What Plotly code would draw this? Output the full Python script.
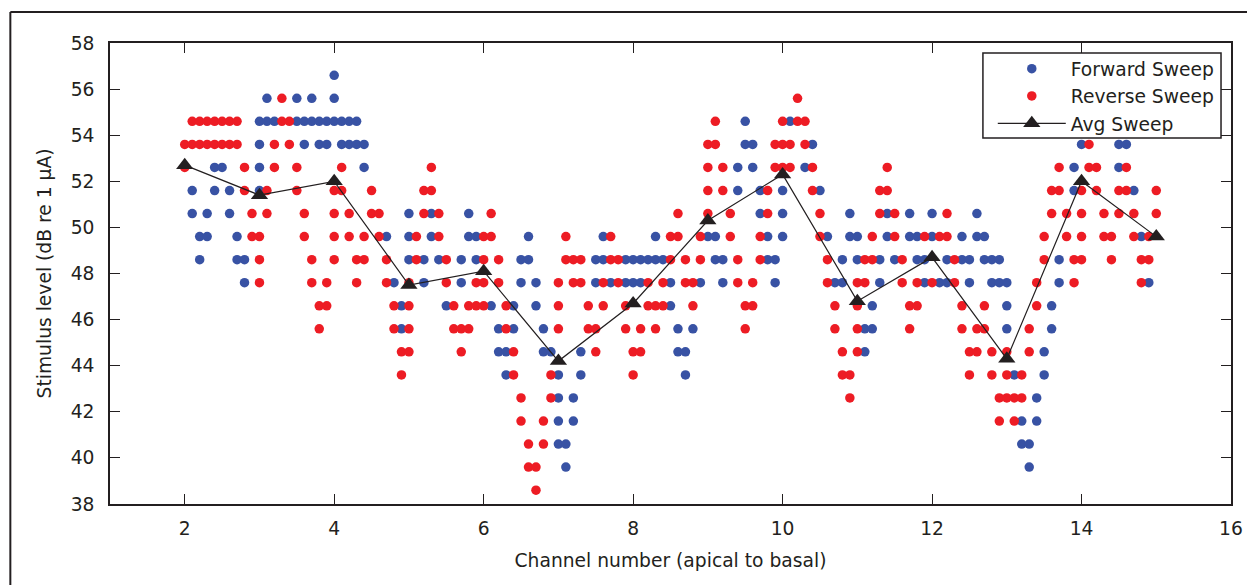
import plotly.graph_objects as go

# ---- data ----
channels = [2, 3, 4, 5, 6, 7, 8, 9, 10, 11, 12, 13, 14, 15]
avg_sweep = [52.7, 51.4, 52.0, 47.5, 48.1, 44.2, 46.7, 50.3, 52.3, 46.8, 48.7, 44.3, 52.0, 49.6]

# (x position, stimulus level) of each Forward Sweep dot
forward_points = [
    (4.0, 56.6),
    (3.1, 55.6), (3.5, 55.6), (3.7, 55.6), (4.0, 55.6),
    (3.0, 54.6), (3.1, 54.6), (3.2, 54.6), (3.5, 54.6), (3.6, 54.6), (3.7, 54.6), (3.8, 54.6),
    (3.9, 54.6), (4.0, 54.6), (4.1, 54.6), (4.2, 54.6), (4.3, 54.6), (9.5, 54.6), (10.1, 54.6),
    (3.0, 53.6), (3.6, 53.6), (3.8, 53.6), (3.9, 53.6), (4.1, 53.6), (4.2, 53.6), (4.3, 53.6),
    (4.4, 53.6), (9.5, 53.6), (9.6, 53.6), (10.4, 53.6), (14.0, 53.6), (14.5, 53.6), (14.6, 53.6),
    (2.4, 52.6), (2.5, 52.6), (3.0, 52.6), (4.4, 52.6), (9.4, 52.6), (9.6, 52.6), (10.3, 52.6),
    (13.9, 52.6), (14.5, 52.6),
    (2.1, 51.6), (2.4, 51.6), (2.6, 51.6), (3.0, 51.6), (9.4, 51.6), (9.7, 51.6), (10.0, 51.6),
    (10.5, 51.6), (13.9, 51.6), (14.7, 51.6),
    (2.1, 50.6), (2.3, 50.6), (2.6, 50.6), (5.0, 50.6), (5.3, 50.6), (5.8, 50.6), (9.7, 50.6),
    (10.0, 50.6), (10.9, 50.6), (11.4, 50.6), (11.7, 50.6), (12.0, 50.6), (12.6, 50.6),
    (2.2, 49.6), (2.3, 49.6), (2.7, 49.6), (4.7, 49.6), (5.0, 49.6), (5.3, 49.6), (5.8, 49.6),
    (5.9, 49.6), (6.6, 49.6), (7.6, 49.6), (8.3, 49.6), (9.0, 49.6), (9.1, 49.6), (9.8, 49.6),
    (10.0, 49.6), (10.6, 49.6), (10.9, 49.6), (11.0, 49.6), (11.4, 49.6), (11.7, 49.6), (11.8, 49.6),
    (12.0, 49.6), (12.4, 49.6), (12.6, 49.6), (12.7, 49.6), (14.8, 49.6),
    (2.2, 48.6), (2.7, 48.6), (2.8, 48.6), (5.0, 48.6), (5.2, 48.6), (5.4, 48.6), (5.7, 48.6),
    (5.9, 48.6), (6.5, 48.6), (6.6, 48.6), (7.5, 48.6), (7.6, 48.6), (7.9, 48.6), (8.0, 48.6),
    (8.1, 48.6), (8.2, 48.6), (8.3, 48.6), (8.4, 48.6), (9.1, 48.6), (9.2, 48.6), (9.8, 48.6),
    (9.9, 48.6), (10.8, 48.6), (11.0, 48.6), (11.3, 48.6), (11.5, 48.6), (11.8, 48.6), (11.9, 48.6),
    (12.2, 48.6), (12.4, 48.6), (12.5, 48.6), (12.7, 48.6), (12.8, 48.6), (12.9, 48.6), (13.7, 48.6),
    (2.8, 47.6), (4.8, 47.6), (5.2, 47.6), (5.7, 47.6), (6.5, 47.6), (6.7, 47.6), (7.5, 47.6),
    (7.7, 47.6), (7.9, 47.6), (8.0, 47.6), (8.1, 47.6), (8.5, 47.6), (8.9, 47.6), (9.2, 47.6),
    (9.9, 47.6), (10.7, 47.6), (10.8, 47.6), (11.3, 47.6), (11.9, 47.6), (12.1, 47.6), (12.2, 47.6),
    (12.5, 47.6), (12.8, 47.6), (12.9, 47.6), (13.0, 47.6), (13.7, 47.6), (14.9, 47.6),
    (4.9, 46.6), (5.5, 46.6), (6.1, 46.6), (6.4, 46.6), (6.7, 46.6), (8.5, 46.6), (11.2, 46.6),
    (13.0, 46.6), (13.6, 46.6),
    (4.9, 45.6), (6.2, 45.6), (6.4, 45.6), (6.8, 45.6), (8.6, 45.6), (8.8, 45.6), (11.1, 45.6),
    (11.2, 45.6), (13.0, 45.6), (13.6, 45.6),
    (6.2, 44.6), (6.3, 44.6), (6.8, 44.6), (6.9, 44.6), (7.3, 44.6), (8.6, 44.6), (8.7, 44.6),
    (11.1, 44.6), (13.5, 44.6),
    (6.3, 43.6), (7.0, 43.6), (7.3, 43.6), (8.7, 43.6), (13.1, 43.6), (13.5, 43.6),
    (7.0, 42.6), (7.2, 42.6), (13.4, 42.6),
    (7.0, 41.6), (7.2, 41.6), (13.2, 41.6), (13.4, 41.6),
    (7.0, 40.6), (7.1, 40.6), (13.2, 40.6), (13.3, 40.6),
    (7.1, 39.6), (13.3, 39.6),
]

# (x position, stimulus level) of each Reverse Sweep dot
reverse_points = [
    (3.3, 55.6), (10.2, 55.6),
    (2.1, 54.6), (2.2, 54.6), (2.3, 54.6), (2.4, 54.6), (2.5, 54.6), (2.6, 54.6), (2.7, 54.6),
    (3.3, 54.6), (3.4, 54.6), (9.1, 54.6), (10.0, 54.6), (10.2, 54.6), (10.3, 54.6),
    (2.0, 53.6), (2.1, 53.6), (2.2, 53.6), (2.3, 53.6), (2.4, 53.6), (2.5, 53.6), (2.6, 53.6),
    (2.7, 53.6), (3.2, 53.6), (3.4, 53.6), (9.0, 53.6), (9.1, 53.6), (9.9, 53.6), (10.0, 53.6),
    (10.1, 53.6), (10.3, 53.6), (14.1, 53.6),
    (2.0, 52.6), (2.8, 52.6), (3.2, 52.6), (3.5, 52.6), (4.1, 52.6), (5.3, 52.6), (9.0, 52.6),
    (9.2, 52.6), (9.9, 52.6), (10.0, 52.6), (10.1, 52.6), (10.4, 52.6), (11.4, 52.6), (13.7, 52.6),
    (14.1, 52.6), (14.2, 52.6), (14.6, 52.6),
    (2.8, 51.6), (3.1, 51.6), (3.5, 51.6), (4.0, 51.6), (4.1, 51.6), (4.5, 51.6), (5.2, 51.6),
    (5.3, 51.6), (9.0, 51.6), (9.2, 51.6), (9.8, 51.6), (10.4, 51.6), (11.3, 51.6), (11.4, 51.6),
    (13.6, 51.6), (13.7, 51.6), (14.0, 51.6), (14.2, 51.6), (14.5, 51.6), (14.6, 51.6), (15.0, 51.6),
    (2.9, 50.6), (3.1, 50.6), (3.6, 50.6), (4.0, 50.6), (4.2, 50.6), (4.5, 50.6), (4.6, 50.6),
    (5.2, 50.6), (5.4, 50.6), (6.1, 50.6), (8.6, 50.6), (9.0, 50.6), (9.3, 50.6), (9.8, 50.6),
    (10.5, 50.6), (11.3, 50.6), (11.5, 50.6), (12.2, 50.6), (13.6, 50.6), (13.8, 50.6), (14.0, 50.6),
    (14.3, 50.6), (14.5, 50.6), (14.7, 50.6), (15.0, 50.6),
    (2.9, 49.6), (3.0, 49.6), (3.6, 49.6), (4.0, 49.6), (4.2, 49.6), (4.4, 49.6), (4.6, 49.6),
    (5.1, 49.6), (5.4, 49.6), (6.0, 49.6), (6.1, 49.6), (7.1, 49.6), (7.7, 49.6), (8.5, 49.6),
    (8.6, 49.6), (8.9, 49.6), (9.3, 49.6), (9.7, 49.6), (10.5, 49.6), (11.2, 49.6), (11.5, 49.6),
    (11.9, 49.6), (12.1, 49.6), (12.2, 49.6), (13.5, 49.6), (13.8, 49.6), (14.0, 49.6), (14.3, 49.6),
    (14.4, 49.6), (14.7, 49.6), (14.9, 49.6),
    (3.0, 48.6), (3.7, 48.6), (4.0, 48.6), (4.3, 48.6), (4.4, 48.6), (4.7, 48.6), (5.1, 48.6),
    (5.5, 48.6), (6.0, 48.6), (6.2, 48.6), (7.1, 48.6), (7.2, 48.6), (7.3, 48.6), (7.7, 48.6),
    (7.8, 48.6), (8.5, 48.6), (8.7, 48.6), (8.9, 48.6), (9.4, 48.6), (9.7, 48.6), (10.6, 48.6),
    (11.1, 48.6), (11.2, 48.6), (11.6, 48.6), (12.3, 48.6), (13.5, 48.6), (13.9, 48.6), (14.0, 48.6),
    (14.4, 48.6), (14.8, 48.6), (14.9, 48.6),
    (3.0, 47.6), (3.7, 47.6), (3.9, 47.6), (4.3, 47.6), (4.7, 47.6), (5.0, 47.6), (5.5, 47.6),
    (5.9, 47.6), (6.0, 47.6), (6.2, 47.6), (7.0, 47.6), (7.2, 47.6), (7.3, 47.6), (7.6, 47.6),
    (7.8, 47.6), (8.2, 47.6), (8.4, 47.6), (8.7, 47.6), (8.8, 47.6), (9.4, 47.6), (9.6, 47.6),
    (10.6, 47.6), (11.0, 47.6), (11.1, 47.6), (11.6, 47.6), (11.8, 47.6), (12.0, 47.6), (12.3, 47.6),
    (13.4, 47.6), (13.9, 47.6), (14.8, 47.6),
    (3.8, 46.6), (3.9, 46.6), (4.8, 46.6), (5.0, 46.6), (5.6, 46.6), (5.8, 46.6), (5.9, 46.6),
    (6.0, 46.6), (6.3, 46.6), (7.0, 46.6), (7.4, 46.6), (7.6, 46.6), (7.9, 46.6), (8.2, 46.6),
    (8.3, 46.6), (8.4, 46.6), (8.8, 46.6), (9.5, 46.6), (9.6, 46.6), (10.7, 46.6), (11.0, 46.6),
    (11.7, 46.6), (11.8, 46.6), (12.4, 46.6), (12.7, 46.6), (13.4, 46.6),
    (3.8, 45.6), (4.8, 45.6), (5.0, 45.6), (5.6, 45.6), (5.7, 45.6), (5.8, 45.6), (6.3, 45.6),
    (7.0, 45.6), (7.4, 45.6), (7.5, 45.6), (7.9, 45.6), (8.1, 45.6), (8.3, 45.6), (9.5, 45.6),
    (10.7, 45.6), (11.0, 45.6), (11.7, 45.6), (12.4, 45.6), (12.6, 45.6), (12.7, 45.6), (13.3, 45.6),
    (4.9, 44.6), (5.0, 44.6), (5.7, 44.6), (6.4, 44.6), (7.5, 44.6), (8.0, 44.6), (8.1, 44.6),
    (10.8, 44.6), (11.0, 44.6), (12.5, 44.6), (12.6, 44.6), (12.8, 44.6), (13.0, 44.6), (13.3, 44.6),
    (4.9, 43.6), (6.4, 43.6), (6.9, 43.6), (8.0, 43.6), (10.8, 43.6), (10.9, 43.6), (12.5, 43.6),
    (12.8, 43.6), (13.0, 43.6), (13.2, 43.6),
    (6.5, 42.6), (6.9, 42.6), (10.9, 42.6), (12.9, 42.6), (13.0, 42.6), (13.1, 42.6), (13.2, 42.6),
    (6.5, 41.6), (6.8, 41.6), (12.9, 41.6), (13.1, 41.6),
    (6.6, 40.6), (6.8, 40.6),
    (6.6, 39.6), (6.7, 39.6),
    (6.7, 38.6),
]

x_ticks = [2, 4, 6, 8, 10, 12, 14, 16]
y_ticks = [38, 40, 42, 44, 46, 48, 50, 52, 54, 56, 58]

# ---- styling ----
FONT = "DejaVu Sans"
INK = "#231f20"
BLUE = "#3852a4"
RED = "#ed1c24"

fig = go.Figure()
fig.add_trace(go.Scatter(
    x=[p[0] for p in forward_points], y=[p[1] for p in forward_points],
    mode="markers", name="Forward Sweep",
    marker=dict(color=BLUE, size=9.5, line=dict(width=0)),
))
fig.add_trace(go.Scatter(
    x=[p[0] for p in reverse_points], y=[p[1] for p in reverse_points],
    mode="markers", name="Reverse Sweep",
    marker=dict(color=RED, size=9.5, line=dict(width=0)),
))
fig.add_trace(go.Scatter(
    x=channels, y=avg_sweep, mode="lines+markers", name="Avg Sweep",
    line=dict(color=INK, width=1.2),
    marker=dict(symbol="triangle-up", color=INK, size=15, line=dict(width=0)),
))

axis_common = dict(
    showline=True, linecolor=INK, linewidth=1.5, mirror="ticks",
    ticks="inside", ticklen=10, tickwidth=1.2, tickcolor=INK,
    showgrid=False, zeroline=False,
    tickfont=dict(family=FONT, size=18.7, color=INK),
)

# the page body has an 8px margin, so the figure is 8px smaller than the window
fig.update_layout(
    width=1247, height=577,
    margin=dict(l=102, r=20, t=35, b=81),
    paper_bgcolor="white", plot_bgcolor="white",
    font=dict(family=FONT, size=18.7, color=INK),
    xaxis=dict(range=[1, 16], tickvals=x_ticks, ticklabelstandoff=7,
               title=dict(text="Channel number (apical to basal)", standoff=16,
                          font=dict(family=FONT, size=18.7, color=INK)),
               **axis_common),
    yaxis=dict(range=[38, 58], tickvals=y_ticks, ticklabelstandoff=10,
               title=dict(text="Stimulus level (dB re 1 \u03bcA)", standoff=14,
                          font=dict(family=FONT, size=18.7, color=INK)),
               **axis_common),
    legend=dict(x=0.7875, xanchor="left", y=0.9848, yanchor="top",
                bgcolor="rgba(0,0,0,0)", borderwidth=0,
                font=dict(family=FONT, size=18.7, color=INK),
                itemwidth=68, tracegroupgap=0),
    showlegend=True,
    shapes=[
        # legend frame
        dict(type="rect", xref="paper", yref="paper", x0=0.7787, x1=0.9911,
             y0=0.7938, y1=0.9783, fillcolor="white",
             line=dict(color=INK, width=1.5), layer="above"),
        # outer figure frame (left and top edges)
        dict(type="line", xref="paper", yref="paper", x0=-0.0889, x1=-0.0889,
             y0=-0.25, y1=1.0673, line=dict(color=INK, width=2)),
        dict(type="line", xref="paper", yref="paper", x0=-0.0889, x1=1.06,
             y0=1.0673, y1=1.0673, line=dict(color=INK, width=2)),
    ],
)

fig.write_html("out.html")
